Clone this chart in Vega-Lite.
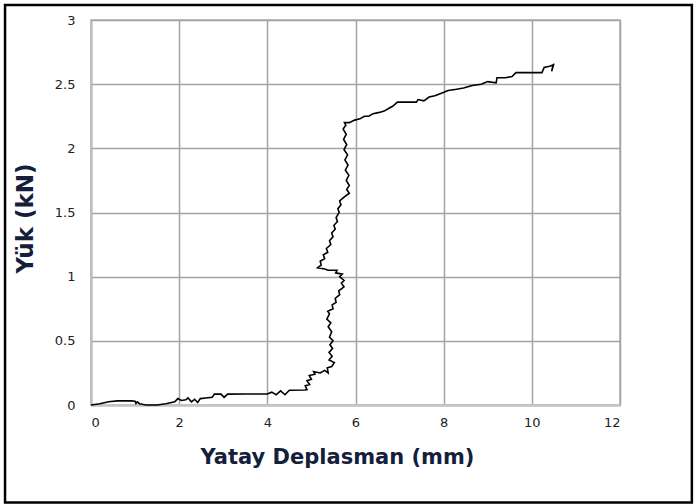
{
  "$schema": "https://vega.github.io/schema/vega-lite/v6.json",
  "width": 529,
  "height": 385,
  "autosize": {"type": "none"},
  "padding": {"left": 91, "top": 20, "right": 76, "bottom": 99},
  "background": "white",
  "config": {
    "view": {"stroke": "#b0b0b0", "strokeWidth": 1.5},
    "axis": {
      "grid": true,
      "gridColor": "#a3a3a3",
      "gridWidth": 1.5,
      "ticks": false,
      "labelFont": "DejaVu Sans",
      "labelFontSize": 13,
      "labelColor": "#222222",
      "titleFont": "DejaVu Sans",
      "titleFontWeight": "bold",
      "titleFontSize": 21,
      "titleColor": "#14203a"
    },
    "axisX": {
      "domainColor": "#c6c6c6",
      "domainWidth": 2.5,
      "labelPadding": 11,
      "titleAnchor": null,
      "titleAlign": "center",
      "titleBaseline": "alphabetic",
      "titleX": 246,
      "titleY": 58
    },
    "axisY": {
      "domainColor": "#bdbdbd",
      "domainWidth": 2,
      "labelPadding": 16,
      "titleFontSize": 23,
      "titleAngle": 270,
      "titleAlign": "center",
      "titleBaseline": "middle",
      "titleX": -66,
      "titleY": 198
    }
  },
  "layer": [
    {
      "data": {"values": [{}]},
      "mark": {"type": "rect", "filled": false, "stroke": "black", "strokeWidth": 2.5, "clip": false},
      "encoding": {
        "x": {"datum": -1.95, "type": "quantitative", "title": "Yatay Deplasman (mm)", "scale": {"domain": [0, 12], "nice": false}, "axis": {"values": [0, 2, 4, 6, 8, 10, 12], "format": "~g"}},
        "x2": {"datum": 13.63},
        "y": {"datum": 3.117, "type": "quantitative", "title": "Yük (kN)", "scale": {"domain": [0, 3], "nice": false}, "axis": {"values": [0, 0.5, 1, 1.5, 2, 2.5, 3], "format": "~g"}},
        "y2": {"datum": -0.76}
      }
    },
    {
      "data": {"values": [
        {"i": 0, "d": 0, "p": 0},
        {"i": 1, "d": 0.2, "p": 0.01},
        {"i": 2, "d": 0.4, "p": 0.025},
        {"i": 3, "d": 0.6, "p": 0.032},
        {"i": 4, "d": 0.9, "p": 0.032},
        {"i": 5, "d": 1.0, "p": 0.03},
        {"i": 6, "d": 1.02, "p": 0.012},
        {"i": 7, "d": 1.05, "p": 0.025},
        {"i": 8, "d": 1.1, "p": 0.01},
        {"i": 9, "d": 1.25, "p": 0.0},
        {"i": 10, "d": 1.5, "p": 0.0},
        {"i": 11, "d": 1.7, "p": 0.01},
        {"i": 12, "d": 1.9, "p": 0.025},
        {"i": 13, "d": 1.97, "p": 0.05},
        {"i": 14, "d": 2.05, "p": 0.035},
        {"i": 15, "d": 2.15, "p": 0.04},
        {"i": 16, "d": 2.2, "p": 0.055},
        {"i": 17, "d": 2.28, "p": 0.025},
        {"i": 18, "d": 2.35, "p": 0.045},
        {"i": 19, "d": 2.42, "p": 0.02},
        {"i": 20, "d": 2.48, "p": 0.05},
        {"i": 21, "d": 2.6, "p": 0.055},
        {"i": 22, "d": 2.75, "p": 0.06},
        {"i": 23, "d": 2.8, "p": 0.085},
        {"i": 24, "d": 2.95, "p": 0.085},
        {"i": 25, "d": 3.02, "p": 0.06},
        {"i": 26, "d": 3.1, "p": 0.085},
        {"i": 27, "d": 3.5, "p": 0.086},
        {"i": 28, "d": 4.0, "p": 0.086},
        {"i": 29, "d": 4.1, "p": 0.1},
        {"i": 30, "d": 4.2, "p": 0.08},
        {"i": 31, "d": 4.3, "p": 0.11},
        {"i": 32, "d": 4.4, "p": 0.08},
        {"i": 33, "d": 4.5, "p": 0.115},
        {"i": 34, "d": 4.85, "p": 0.117},
        {"i": 35, "d": 4.9, "p": 0.12},
        {"i": 36, "d": 4.86, "p": 0.15},
        {"i": 37, "d": 4.96, "p": 0.16},
        {"i": 38, "d": 4.9, "p": 0.19},
        {"i": 39, "d": 5.0, "p": 0.2},
        {"i": 40, "d": 4.95, "p": 0.23},
        {"i": 41, "d": 5.08, "p": 0.24},
        {"i": 42, "d": 5.05, "p": 0.26},
        {"i": 43, "d": 5.2, "p": 0.25},
        {"i": 44, "d": 5.3, "p": 0.27},
        {"i": 45, "d": 5.38, "p": 0.25},
        {"i": 46, "d": 5.36, "p": 0.29},
        {"i": 47, "d": 5.46, "p": 0.3},
        {"i": 48, "d": 5.52, "p": 0.33},
        {"i": 49, "d": 5.4, "p": 0.35},
        {"i": 50, "d": 5.47, "p": 0.38},
        {"i": 51, "d": 5.4, "p": 0.41},
        {"i": 52, "d": 5.48, "p": 0.44},
        {"i": 53, "d": 5.42, "p": 0.47},
        {"i": 54, "d": 5.49, "p": 0.5},
        {"i": 55, "d": 5.41, "p": 0.53},
        {"i": 56, "d": 5.46, "p": 0.57},
        {"i": 57, "d": 5.38, "p": 0.61},
        {"i": 58, "d": 5.44, "p": 0.64},
        {"i": 59, "d": 5.35, "p": 0.67},
        {"i": 60, "d": 5.41, "p": 0.71},
        {"i": 61, "d": 5.37, "p": 0.73},
        {"i": 62, "d": 5.49, "p": 0.75},
        {"i": 63, "d": 5.47, "p": 0.78},
        {"i": 64, "d": 5.56, "p": 0.8},
        {"i": 65, "d": 5.54, "p": 0.83},
        {"i": 66, "d": 5.64, "p": 0.86},
        {"i": 67, "d": 5.62, "p": 0.89},
        {"i": 68, "d": 5.74, "p": 0.92},
        {"i": 69, "d": 5.68, "p": 0.95},
        {"i": 70, "d": 5.74, "p": 0.97},
        {"i": 71, "d": 5.64, "p": 1.0},
        {"i": 72, "d": 5.7, "p": 1.02},
        {"i": 73, "d": 5.55, "p": 1.03},
        {"i": 74, "d": 5.58, "p": 1.05},
        {"i": 75, "d": 5.38, "p": 1.05},
        {"i": 76, "d": 5.3, "p": 1.06},
        {"i": 77, "d": 5.14, "p": 1.07},
        {"i": 78, "d": 5.22, "p": 1.09},
        {"i": 79, "d": 5.2, "p": 1.12},
        {"i": 80, "d": 5.3, "p": 1.14},
        {"i": 81, "d": 5.27, "p": 1.17},
        {"i": 82, "d": 5.37, "p": 1.19},
        {"i": 83, "d": 5.34, "p": 1.22},
        {"i": 84, "d": 5.44, "p": 1.25},
        {"i": 85, "d": 5.41, "p": 1.28},
        {"i": 86, "d": 5.49, "p": 1.31},
        {"i": 87, "d": 5.46, "p": 1.34},
        {"i": 88, "d": 5.54, "p": 1.37},
        {"i": 89, "d": 5.51, "p": 1.4},
        {"i": 90, "d": 5.59, "p": 1.43},
        {"i": 91, "d": 5.56, "p": 1.46},
        {"i": 92, "d": 5.63, "p": 1.5},
        {"i": 93, "d": 5.6, "p": 1.53},
        {"i": 94, "d": 5.67, "p": 1.56},
        {"i": 95, "d": 5.64, "p": 1.59},
        {"i": 96, "d": 5.74, "p": 1.62},
        {"i": 97, "d": 5.86, "p": 1.65},
        {"i": 98, "d": 5.8, "p": 1.68},
        {"i": 99, "d": 5.86, "p": 1.71},
        {"i": 100, "d": 5.79, "p": 1.75},
        {"i": 101, "d": 5.85, "p": 1.79},
        {"i": 102, "d": 5.77, "p": 1.83},
        {"i": 103, "d": 5.83, "p": 1.87},
        {"i": 104, "d": 5.76, "p": 1.91},
        {"i": 105, "d": 5.82, "p": 1.95},
        {"i": 106, "d": 5.74, "p": 1.99},
        {"i": 107, "d": 5.8, "p": 2.03},
        {"i": 108, "d": 5.73, "p": 2.07},
        {"i": 109, "d": 5.79, "p": 2.11},
        {"i": 110, "d": 5.72, "p": 2.15},
        {"i": 111, "d": 5.78, "p": 2.18},
        {"i": 112, "d": 5.75, "p": 2.2},
        {"i": 113, "d": 5.86, "p": 2.2},
        {"i": 114, "d": 5.98, "p": 2.22},
        {"i": 115, "d": 6.1, "p": 2.23},
        {"i": 116, "d": 6.2, "p": 2.25},
        {"i": 117, "d": 6.3, "p": 2.25},
        {"i": 118, "d": 6.4, "p": 2.27},
        {"i": 119, "d": 6.54, "p": 2.28},
        {"i": 120, "d": 6.65, "p": 2.29},
        {"i": 121, "d": 6.75, "p": 2.31},
        {"i": 122, "d": 6.85, "p": 2.33},
        {"i": 123, "d": 6.95, "p": 2.36},
        {"i": 124, "d": 7.2, "p": 2.36},
        {"i": 125, "d": 7.38, "p": 2.36},
        {"i": 126, "d": 7.42, "p": 2.38},
        {"i": 127, "d": 7.55, "p": 2.37},
        {"i": 128, "d": 7.67, "p": 2.4},
        {"i": 129, "d": 7.8, "p": 2.41},
        {"i": 130, "d": 7.95, "p": 2.43},
        {"i": 131, "d": 8.1, "p": 2.45},
        {"i": 132, "d": 8.29, "p": 2.46},
        {"i": 133, "d": 8.45, "p": 2.47},
        {"i": 134, "d": 8.65, "p": 2.49},
        {"i": 135, "d": 8.85, "p": 2.5},
        {"i": 136, "d": 9.0, "p": 2.52},
        {"i": 137, "d": 9.19, "p": 2.51},
        {"i": 138, "d": 9.21, "p": 2.55},
        {"i": 139, "d": 9.4, "p": 2.55},
        {"i": 140, "d": 9.55, "p": 2.56},
        {"i": 141, "d": 9.64, "p": 2.59},
        {"i": 142, "d": 10.23, "p": 2.59},
        {"i": 143, "d": 10.28, "p": 2.63},
        {"i": 144, "d": 10.4, "p": 2.64},
        {"i": 145, "d": 10.48, "p": 2.65},
        {"i": 146, "d": 10.45, "p": 2.6},
        {"i": 147, "d": 10.5, "p": 2.66}
      ]},
      "mark": {"type": "line", "color": "black", "strokeWidth": 1.6},
      "encoding": {
        "x": {"field": "d", "type": "quantitative", "title": "Yatay Deplasman (mm)", "scale": {"domain": [0, 12], "nice": false}, "axis": {"values": [0, 2, 4, 6, 8, 10, 12], "format": "~g"}},
        "y": {"field": "p", "type": "quantitative", "title": "Yük (kN)", "scale": {"domain": [0, 3], "nice": false}, "axis": {"values": [0, 0.5, 1, 1.5, 2, 2.5, 3], "format": "~g"}},
        "order": {"field": "i", "type": "quantitative"}
      }
    }
  ]
}
